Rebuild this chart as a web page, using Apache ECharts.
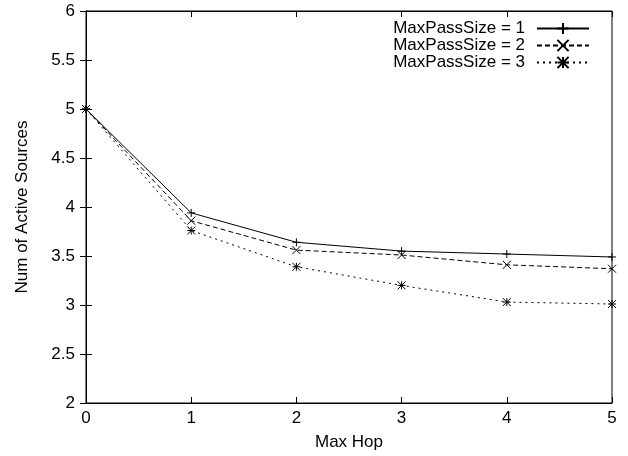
<!DOCTYPE html>
<html>
<head>
<meta charset="utf-8">
<script src="https://cdn.jsdelivr.net/npm/echarts@6/dist/echarts.min.js"></script>
<style>
  html, body { margin: 0; padding: 0; background: #fff; }
  #chart { width: 628px; height: 456px; }
</style>
</head>
<body>
<div id="chart"></div>
<script>
// Max hop counts on the x axis
const hops = [0, 1, 2, 3, 4, 5];
// Average number of active sources per MaxPassSize setting
const passSize1 = [5.00, 3.94, 3.64, 3.55, 3.52, 3.49];
const passSize2 = [5.00, 3.86, 3.56, 3.51, 3.41, 3.37];
const passSize3 = [5.00, 3.76, 3.39, 3.20, 3.03, 3.01];
const seriesNames = ['MaxPassSize = 1', 'MaxPassSize = 2', 'MaxPassSize = 3'];

const FONT = '"Liberation Sans", Arial, sans-serif';
const FS = 17;

// Stroke-only point glyphs: plus, cross, asterisk
const plusSym = 'path://M0,5L10,5M5,0L5,10';
const crossSym = 'path://M0,0L10,10M0,10L10,0';
const starSym = 'path://M0,5L10,5M5,0L5,10M0,0L10,10M0,10L10,0';

function pairs(ys) { return hops.map((x, i) => [x, ys[i]]); }

function makeSeries(name, ys, sym, dash) {
  return {
    name: name,
    type: 'line',
    data: pairs(ys),
    symbol: sym,
    symbolSize: 8,
    showSymbol: true,
    clip: false,
    lineStyle: { color: '#000', width: 1, type: dash },
    itemStyle: { color: 'rgba(0,0,0,0)', borderColor: '#000', borderWidth: 1 },
    emphasis: { disabled: true },
    animation: false
  };
}

const chart = echarts.init(document.getElementById('chart'), null, { renderer: 'canvas' });

const tickCommon = { show: true, inside: true, length: 6, lineStyle: { color: '#000', width: 1 } };

chart.setOption({
  animation: false,
  backgroundColor: '#fff',
  textStyle: { fontFamily: FONT },
  grid: { left: 86, right: 16, top: 11, bottom: 52, show: true, borderColor: '#000', borderWidth: 1, containLabel: false },
  legend: {
    right: 33,
    top: 15,
    orient: 'vertical',
    align: 'right',
    itemGap: 0,
    itemWidth: 52,
    itemHeight: 14,
    textStyle: { fontFamily: FONT, fontSize: FS, color: '#000', padding: [0, 7, 0, 0] },
    data: seriesNames
  },
  xAxis: [{
    type: 'value', min: 0, max: 5, interval: 1,
    name: 'Max Hop', nameLocation: 'middle', nameGap: 31,
    nameTextStyle: { fontFamily: FONT, fontSize: FS, color: '#000' },
    axisLine: { show: true, lineStyle: { color: '#000' } },
    axisTick: tickCommon,
    axisLabel: { fontFamily: FONT, fontSize: FS, color: '#000', margin: 7 },
    splitLine: { show: false }
  }, {
    type: 'value', min: 0, max: 5, interval: 1, position: 'top',
    axisLine: { show: true, lineStyle: { color: '#000' } },
    axisTick: tickCommon, axisLabel: { show: false }, splitLine: { show: false }
  }],
  yAxis: [{
    type: 'value', min: 2, max: 6, interval: 0.5,
    name: 'Num of Active Sources', nameLocation: 'middle', nameGap: 55,
    nameTextStyle: { fontFamily: FONT, fontSize: FS, color: '#000' },
    axisLine: { show: true, lineStyle: { color: '#000' } },
    axisTick: tickCommon,
    axisLabel: { fontFamily: FONT, fontSize: FS, color: '#000', margin: 11 },
    splitLine: { show: false }
  }, {
    type: 'value', min: 2, max: 6, interval: 0.5, position: 'right',
    axisLine: { show: true, lineStyle: { color: '#000' } },
    axisTick: tickCommon, axisLabel: { show: false }, splitLine: { show: false }
  }],
  series: [
    makeSeries(seriesNames[0], passSize1, plusSym, 'solid'),
    makeSeries(seriesNames[1], passSize2, crossSym, [5, 3]),
    makeSeries(seriesNames[2], passSize3, starSym, [2, 4])
  ]
});
</script>
</body>
</html>
